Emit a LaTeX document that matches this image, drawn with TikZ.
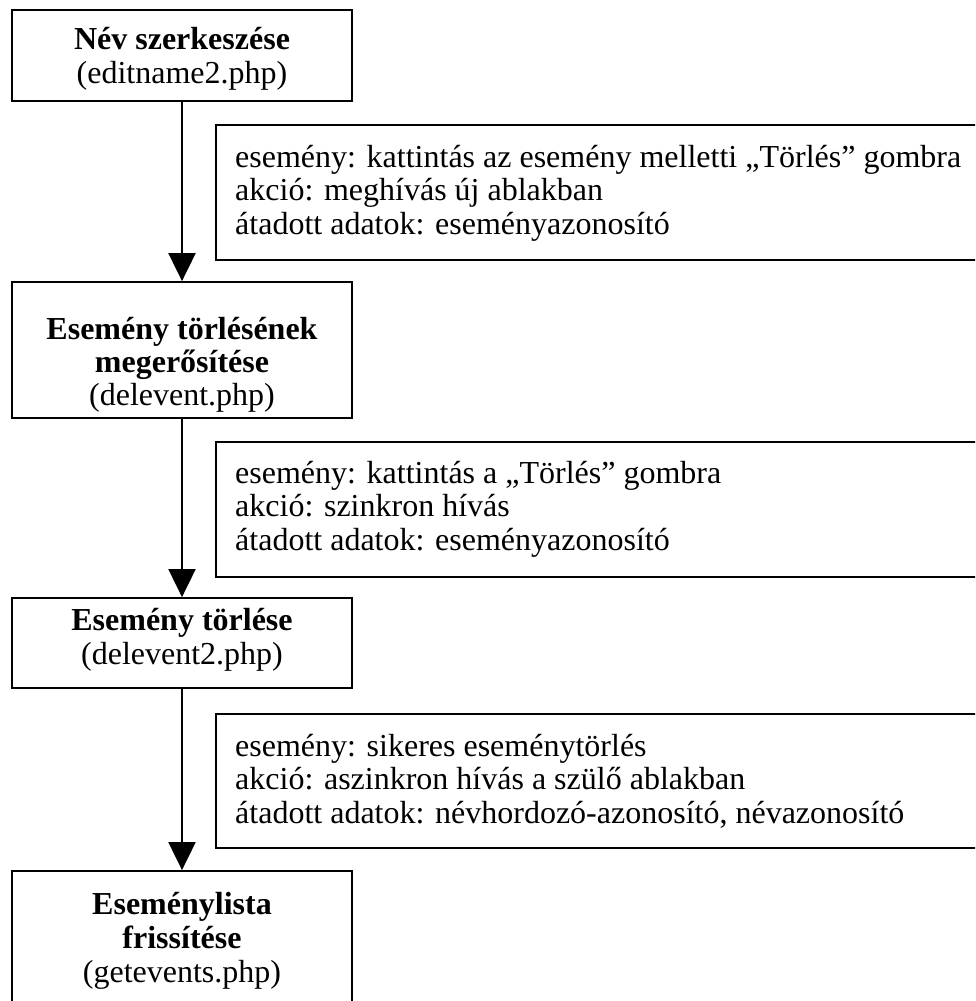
\documentclass[tikz,border=0pt]{standalone}
\usepackage{fontspec}
\setmainfont{Liberation Serif}
\usetikzlibrary{arrows.meta}
\begin{document}
\begin{tikzpicture}[x=1pt,y=-1pt,
  box/.style={draw, line width=1.8pt, minimum width=340pt, inner sep=0pt},
  note/.style={draw, line width=1.8pt, anchor=north west, inner sep=0pt, minimum width=775pt},
  title/.style={font=\fontsize{32}{34}\selectfont\bfseries, anchor=base, inner sep=0pt},
  file/.style={font=\fontsize{32}{34}\selectfont, anchor=base, inner sep=0pt},
  info/.style={font=\fontsize{32}{34}\selectfont, anchor=base west, inner sep=0pt},
  flow/.style={line width=2pt, -{Triangle[length=28pt,width=27pt]}}]
\useasboundingbox (0,0) rectangle (975,1001);
\clip (0,0) rectangle (975,1001);

% page boxes
\node[box, minimum height=91pt]  (b1) at (182,55.5) {};
\node[box, minimum height=136pt] (b2) at (182,350) {};
\node[box, minimum height=90pt]  (b3) at (182,643) {};
\node[box, minimum height=140pt] (b4) at (182,941) {};

\node[title] (b1t) at (182,49)  {Név szerkeszése};
\node[file]  (b1f) at (182,83)  {(editname2.php)};

\node[title] (b2t) at (182,339) {Esemény törlésének};
\node[title] (b2u) at (182,372) {megerősítése};
\node[file]  (b2f) at (182,405) {(delevent.php)};

\node[title] (b3t) at (182,630) {Esemény törlése};
\node[file]  (b3f) at (182,664) {(delevent2.php)};

\node[title] (b4t) at (182,914) {Eseménylista};
\node[title] (b4u) at (182,948) {frissítése};
\node[file]  (b4f) at (182,982) {(getevents.php)};

% transitions
\draw[flow] (b1.south) -- (b2.north);
\draw[flow] (b2.south) -- (b3.north);
\draw[flow] (b3.south) -- (b4.north);

% transition notes
\node[note, minimum height=135pt] (a1) at (215,124) {};
\node[info] (a1e) at (235,167)   {esemény: kattintás az esemény melletti „Törlés” gombra};
\node[info] (a1a) at (235,200.5) {akció: meghívás új ablakban};
\node[info] (a1d) at (235,234)   {átadott adatok: eseményazonosító};

\node[note, minimum height=135pt] (a2) at (215,441) {};
\node[info] (a2e) at (235,483)   {esemény: kattintás a „Törlés” gombra};
\node[info] (a2a) at (235,516.5) {akció: szinkron hívás};
\node[info] (a2d) at (235,550)   {átadott adatok: eseményazonosító};

\node[note, minimum height=134pt] (a3) at (215,713) {};
\node[info] (a3e) at (235,756)   {esemény: sikeres eseménytörlés};
\node[info] (a3a) at (235,789.5) {akció: aszinkron hívás a szülő ablakban};
\node[info] (a3d) at (235,823)   {átadott adatok: névhordozó-azonosító, névazonosító};
\end{tikzpicture}
\end{document}
